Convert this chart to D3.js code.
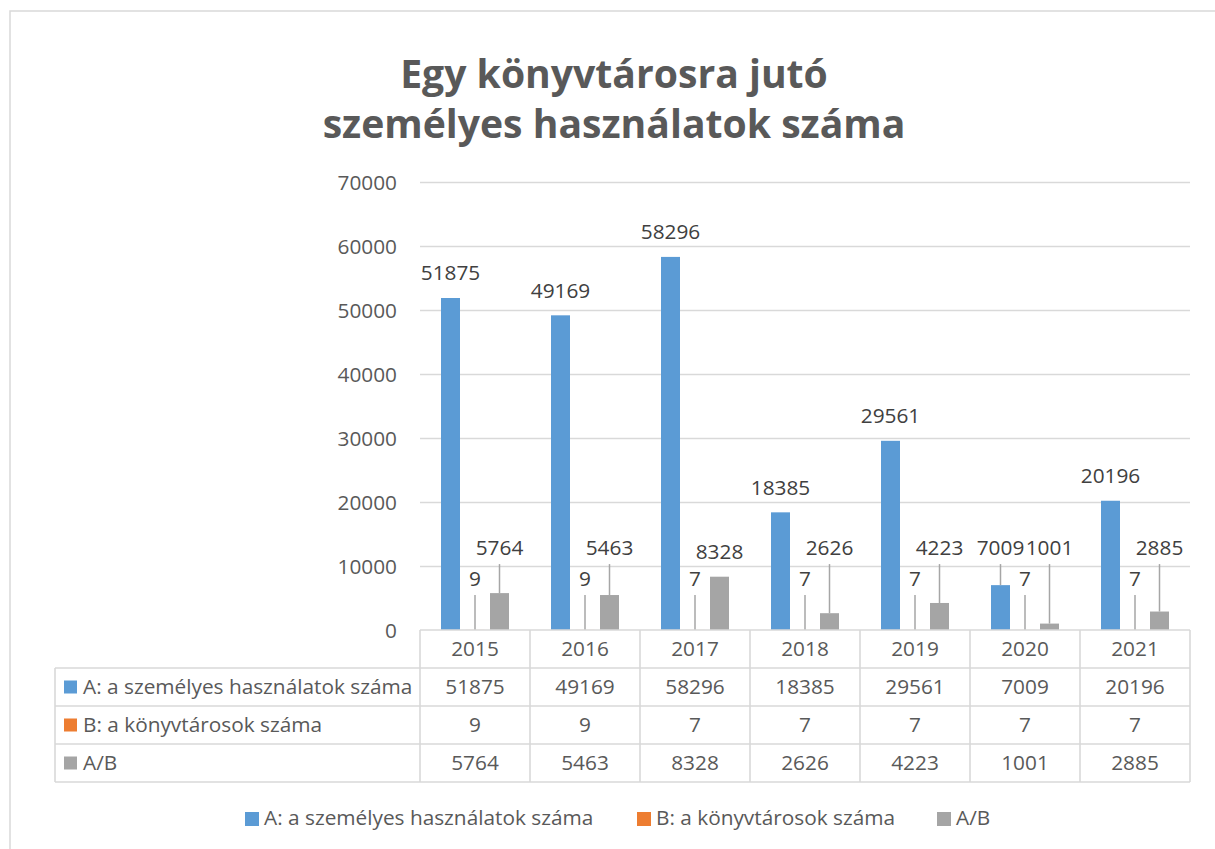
<!DOCTYPE html>
<html>
<head>
<meta charset="utf-8">
<script src="https://cdn.jsdelivr.net/npm/d3@7"></script>
<style>
  html, body { margin: 0; padding: 0; background: #fff; }
  svg { display: block; }
  text { font-family: "Open Sans", "Noto Sans", sans-serif; }
</style>
</head>
<body>
<svg id="chart" width="1215" height="849"></svg>
<script>
// Yearly figures
const years = ["2015", "2016", "2017", "2018", "2019", "2020", "2021"];
const usesA = [51875, 49169, 58296, 18385, 29561, 7009, 20196];   // A: personal uses
const librariansB = [9, 9, 7, 7, 7, 7, 7];                        // B: number of librarians
const ratioAB = [5764, 5463, 8328, 2626, 4223, 1001, 2885];       // A/B
const seriesNames = ["A: a személyes használatok száma", "B: a könyvtárosok száma", "A/B"];
const seriesColors = ["#5b9bd5", "#ed7d31", "#a5a5a5"];
const yTicks = [0, 10000, 20000, 30000, 40000, 50000, 60000, 70000];
const titleLines = ["Egy könyvtárosra jutó", "személyes használatok száma"];

const series = [usesA, librariansB, ratioAB];

const svg = d3.select("#chart");
const W = 1215, H = 849;
const textColor = "#404040";
const axisColor = "#595959";
const gridColor = "#d9d9d9";
const fs = 20.8;

// outer chart frame
svg.append("rect").attr("x", 10).attr("y", 11).attr("width", W + 20).attr("height", H + 20)
  .attr("fill", "none").attr("stroke", "#d9d9d9").attr("stroke-width", 1.5);

// title, fitted to width
const tl = svg.append("g").selectAll("text").data(titleLines).join("text")
  .attr("x", 614).attr("y", (d, i) => 88 + i * 50)
  .attr("text-anchor", "middle").attr("font-weight", 700)
  .attr("fill", "#595959").attr("font-size", 40).text(d => d);
const w2 = tl.nodes()[1].getComputedTextLength();
tl.attr("font-size", 40 * 583 / w2);

// scales
const plot = { left: 420, right: 1190, top: 182, bottom: 630 };
const x = d3.scaleBand().domain(years).range([plot.left, plot.right]).padding(0);
const xi = d3.scaleBand().domain([0, 1, 2]).range([21, 89]).paddingInner(0.2245).paddingOuter(0);
const y = d3.scaleLinear().domain([0, 70000]).range([plot.bottom, plot.top]);

// gridlines
svg.append("g").selectAll("line").data(yTicks.filter(t => t > 0)).join("line")
  .attr("x1", plot.left).attr("x2", plot.right)
  .attr("y1", d => Math.round(y(d)) + 0.5).attr("y2", d => Math.round(y(d)) + 0.5)
  .attr("stroke", gridColor).attr("stroke-width", 1.3);

// y axis tick labels
const yAxis = d3.axisLeft(y).tickValues(yTicks).tickSize(0).tickPadding(0).tickFormat(d3.format("d"));
const yg = svg.append("g").attr("transform", `translate(397,0)`).call(yAxis);
yg.select(".domain").remove();
yg.selectAll("text").attr("font-size", fs).attr("fill", axisColor)
  .attr("font-family", "'Open Sans', sans-serif").attr("dy", "0.35em");

// bars
const barsG = svg.append("g");
series.forEach((vals, s) => {
  barsG.append("g").selectAll("rect").data(vals).join("rect")
    .attr("x", (d, i) => x(years[i]) + xi(s))
    .attr("width", xi.bandwidth())
    .attr("y", d => y(d))
    .attr("height", d => y(0) - y(d))
    .attr("fill", seriesColors[s]);
});

// data labels; short bars get their label lifted to a common level with a leader line
const liftLevel = [12800, 7950, 12800];
const labelsG = svg.append("g");
series.forEach((vals, s) => {
  vals.forEach((v, i) => {
    const cx = x(years[i]) + xi(s) + xi.bandwidth() / 2;
    const top = y(v);
    const natural = top - 25;
    const lifted = y(liftLevel[s]);
    const ly = natural - lifted < 8 ? natural : lifted;
    if (ly < natural) {
      labelsG.append("line")
        .attr("x1", cx).attr("x2", cx)
        .attr("y1", ly + 16).attr("y2", top)
        .attr("stroke", "#a6a6a6").attr("stroke-width", 1.5);
    }
    labelsG.append("text")
      .attr("x", cx).attr("y", ly).attr("dy", "0.35em")
      .attr("text-anchor", "middle").attr("font-size", fs).attr("fill", textColor)
      .text(v);
  });
});

// data table under the plot
const rowH = 38;
const tableTop = plot.bottom;
const tableLeft = 55;
const tbl = svg.append("g");
const lineStyle = sel => sel.attr("stroke", gridColor).attr("stroke-width", 1.6).attr("fill", "none");

// horizontal lines
tbl.append("line").attr("x1", plot.left).attr("x2", plot.right).attr("y1", tableTop).attr("y2", tableTop).call(lineStyle);
for (let r = 1; r <= 4; r++) {
  tbl.append("line").attr("x1", tableLeft).attr("x2", plot.right)
    .attr("y1", tableTop + r * rowH).attr("y2", tableTop + r * rowH).call(lineStyle);
}
// vertical lines
tbl.append("line").attr("x1", tableLeft).attr("x2", tableLeft)
  .attr("y1", tableTop + rowH).attr("y2", tableTop + 4 * rowH).call(lineStyle);
[...years.map(d => x(d)), plot.right].forEach(xv => {
  tbl.append("line").attr("x1", xv).attr("x2", xv)
    .attr("y1", tableTop).attr("y2", tableTop + 4 * rowH).call(lineStyle);
});

// year header
tbl.append("g").selectAll("text").data(years).join("text")
  .attr("x", d => x(d) + x.bandwidth() / 2).attr("y", tableTop + rowH / 2).attr("dy", "0.35em")
  .attr("text-anchor", "middle").attr("font-size", fs).attr("fill", axisColor).text(d => d);

// value rows with keys
series.forEach((vals, s) => {
  const cy = tableTop + rowH * (s + 1) + rowH / 2;
  tbl.append("rect").attr("x", 64).attr("y", cy - 6.5).attr("width", 13).attr("height", 13)
    .attr("fill", seriesColors[s]);
  tbl.append("text").attr("x", 83).attr("y", cy).attr("dy", "0.35em")
    .attr("font-size", fs).attr("fill", axisColor).text(seriesNames[s]);
  tbl.append("g").selectAll("text").data(vals).join("text")
    .attr("x", (d, i) => x(years[i]) + x.bandwidth() / 2).attr("y", cy).attr("dy", "0.35em")
    .attr("text-anchor", "middle").attr("font-size", fs).attr("fill", axisColor).text(d => d);
});

// legend
const legendX = [245, 637, 937];
const legend = svg.append("g");
seriesNames.forEach((name, s) => {
  legend.append("rect").attr("x", legendX[s]).attr("y", 812).attr("width", 14).attr("height", 14)
    .attr("fill", seriesColors[s]);
  legend.append("text").attr("x", legendX[s] + 19).attr("y", 818).attr("dy", "0.35em")
    .attr("font-size", fs).attr("fill", axisColor).text(name);
});
</script>
</body>
</html>
